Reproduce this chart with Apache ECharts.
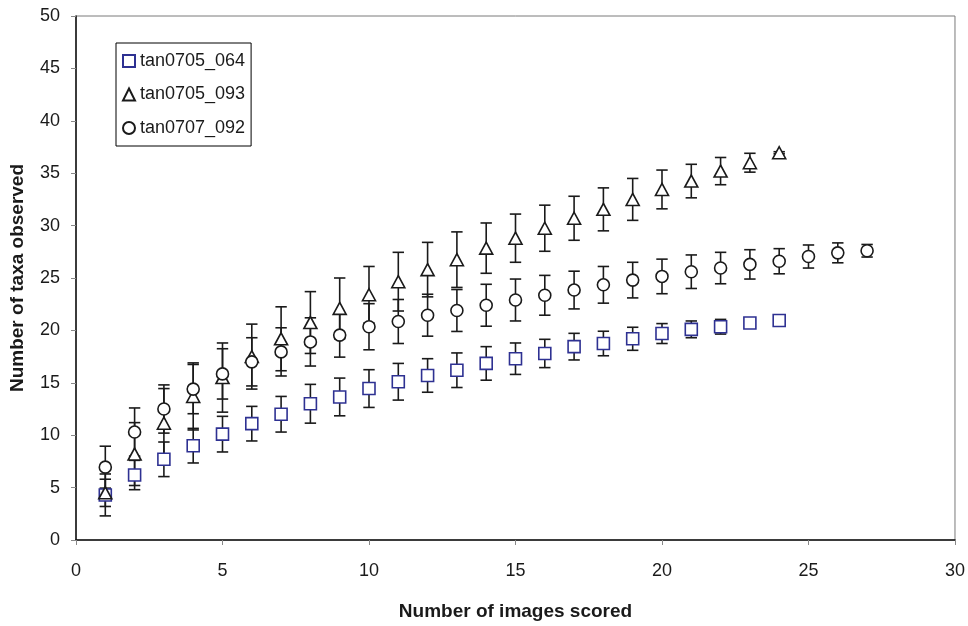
<!DOCTYPE html>
<html>
<head>
<meta charset="utf-8">
<script src="https://cdn.jsdelivr.net/npm/echarts@6/dist/echarts.min.js"></script>
<style>
  html, body { margin: 0; padding: 0; background: #fff; }
  #chart { width: 968px; height: 626px; }
</style>
</head>
<body>
<div id="chart"></div>
<script>
// Mean number of taxa observed (± error) against number of images scored
const xTicks = [0, 5, 10, 15, 20, 25, 30];
const yTicks = [0, 5, 10, 15, 20, 25, 30, 35, 40, 45, 50];

const imgs064 = [1,2,3,4,5,6,7,8,9,10,11,12,13,14,15,16,17,18,19,20,21,22,23,24];
const mean064 = [4.3, 6.2, 7.7, 9.0, 10.1, 11.1, 12.0, 13.0, 13.65, 14.45, 15.1, 15.7,
                 16.2, 16.85, 17.3, 17.8, 18.45, 18.75, 19.2, 19.7, 20.1, 20.35, 20.7, 20.95];
const err064  = [2.0, 1.4, 1.65, 1.65, 1.7, 1.65, 1.7, 1.85, 1.8, 1.8, 1.75, 1.6,
                 1.65, 1.6, 1.5, 1.35, 1.27, 1.17, 1.1, 0.95, 0.8, 0.7, 0.3, 0.1];

const imgs093 = [1,2,3,4,5,6,7,8,9,10,11,12,13,14,15,16,17,18,19,20,21,22,23,24];
const mean093 = [4.5, 8.2, 11.15, 13.7, 15.5, 17.5, 19.2, 20.75, 22.1, 23.4, 24.65, 25.8,
                 26.75, 27.85, 28.8, 29.75, 30.7, 31.55, 32.5, 33.45, 34.25, 35.2, 36.0, 36.95];
const err093  = [1.3, 3.0, 3.3, 3.2, 3.3, 3.1, 3.05, 2.95, 2.9, 2.7, 2.8, 2.6,
                 2.65, 2.4, 2.3, 2.2, 2.1, 2.05, 2.0, 1.85, 1.6, 1.3, 0.9, 0.1];

const imgs092 = [1,2,3,4,5,6,7,8,9,10,11,12,13,14,15,16,17,18,19,20,21,22,23,24,25,26,27];
const mean092 = [6.95, 10.3, 12.5, 14.4, 15.85, 17.0, 17.95, 18.9, 19.55, 20.35, 20.85, 21.45,
                 21.9, 22.4, 22.9, 23.35, 23.85, 24.35, 24.8, 25.15, 25.6, 25.95, 26.3, 26.6,
                 27.05, 27.4, 27.6];
const err092  = [2.0, 2.3, 2.3, 2.35, 2.4, 2.3, 2.3, 2.3, 2.1, 2.2, 2.1, 2.0,
                 2.0, 2.0, 2.0, 1.9, 1.8, 1.75, 1.7, 1.65, 1.6, 1.5, 1.4, 1.2,
                 1.1, 0.95, 0.6];

const FONT = '"Liberation Sans", Arial, Helvetica, sans-serif';
const INK = '#1a1a1a';

const points = (xs, ys) => xs.map((x, i) => [x, ys[i]]);
const ranges = (xs, ys, es) => xs.map((x, i) => [x, ys[i] - es[i], ys[i] + es[i]]);

// vertical error bar with horizontal caps, positioned through the axes
function errorBar(params, api) {
  const x = api.value(0);
  const lo = api.coord([x, api.value(1)]);
  const hi = api.coord([x, api.value(2)]);
  const hw = 5.7;
  const st = { stroke: INK, lineWidth: 1.6 };
  return {
    type: 'group',
    children: [
      { type: 'line', shape: { x1: lo[0], y1: lo[1], x2: hi[0], y2: hi[1] }, style: st },
      { type: 'line', shape: { x1: lo[0] - hw, y1: lo[1], x2: lo[0] + hw, y2: lo[1] }, style: st },
      { type: 'line', shape: { x1: hi[0] - hw, y1: hi[1], x2: hi[0] + hw, y2: hi[1] }, style: st }
    ]
  };
}

function barSeries(xs, ys, es) {
  return {
    type: 'custom',
    renderItem: errorBar,
    encode: { x: 0, y: [1, 2] },
    data: ranges(xs, ys, es),
    z: 2,
    silent: true
  };
}

const chart = echarts.init(document.getElementById('chart'), null, { renderer: 'canvas' });

chart.setOption({
  animation: false,
  backgroundColor: '#fff',
  textStyle: { fontFamily: FONT, color: INK },
  grid: {
    left: 75.7, right: 12.4, top: 16, bottom: 83.7,
    show: true, borderColor: '#7a7a7a', borderWidth: 1, backgroundColor: 'transparent'
  },
  legend: {
    data: ['tan0705_064', 'tan0705_093', 'tan0707_092'],
    orient: 'vertical',
    left: 116, top: 43,
    padding: [8, 6, 8, 6],
    itemWidth: 12, itemHeight: 12,
    itemGap: 13.5,
    selectedMode: false,
    backgroundColor: '#fff',
    borderColor: '#000',
    borderWidth: 1,
    textStyle: { fontFamily: FONT, fontSize: 18, color: INK, lineHeight: 20 }
  },
  xAxis: {
    type: 'value',
    min: xTicks[0], max: xTicks[xTicks.length - 1], interval: 5,
    name: 'Number of images scored',
    nameLocation: 'middle',
    nameGap: 62,
    nameTextStyle: { fontFamily: FONT, fontSize: 19, fontWeight: 'bold', color: INK },
    axisLine: { onZero: false, lineStyle: { color: '#111', width: 1.5 } },
    axisTick: { show: true, inside: false, length: 5, lineStyle: { color: '#888', width: 1 } },
    axisLabel: { margin: 22, fontSize: 18, color: INK, fontFamily: FONT },
    splitLine: { show: false }
  },
  yAxis: {
    type: 'value',
    min: yTicks[0], max: yTicks[yTicks.length - 1], interval: 5,
    name: 'Number of taxa observed',
    nameLocation: 'middle',
    nameGap: 49,
    nameTextStyle: { fontFamily: FONT, fontSize: 19, fontWeight: 'bold', color: INK },
    axisLine: { show: true, onZero: false, lineStyle: { color: '#111', width: 1.5 } },
    axisTick: { show: true, inside: false, length: 5, lineStyle: { color: '#888', width: 1 } },
    axisLabel: { margin: 16, fontSize: 18, color: INK, fontFamily: FONT },
    splitLine: { show: false }
  },
  series: [
    barSeries(imgs064, mean064, err064),
    barSeries(imgs093, mean093, err093),
    barSeries(imgs092, mean092, err092),
    {
      name: 'tan0705_064',
      type: 'scatter',
      symbol: 'rect',
      symbolSize: 12,
      data: points(imgs064, mean064),
      itemStyle: { color: '#fff', borderColor: '#2e3192', borderWidth: 1.6, opacity: 1 },
      emphasis: { disabled: true },
      z: 5
    },
    {
      name: 'tan0705_093',
      type: 'scatter',
      symbol: 'triangle',
      symbolSize: [13, 12],
      data: points(imgs093, mean093),
      itemStyle: { color: '#fff', borderColor: INK, borderWidth: 1.6, opacity: 1 },
      emphasis: { disabled: true },
      z: 5
    },
    {
      name: 'tan0707_092',
      type: 'scatter',
      symbol: 'circle',
      symbolSize: 12,
      data: points(imgs092, mean092),
      itemStyle: { color: '#fff', borderColor: INK, borderWidth: 1.6, opacity: 1 },
      emphasis: { disabled: true },
      z: 5
    }
  ]
});
</script>
</body>
</html>
